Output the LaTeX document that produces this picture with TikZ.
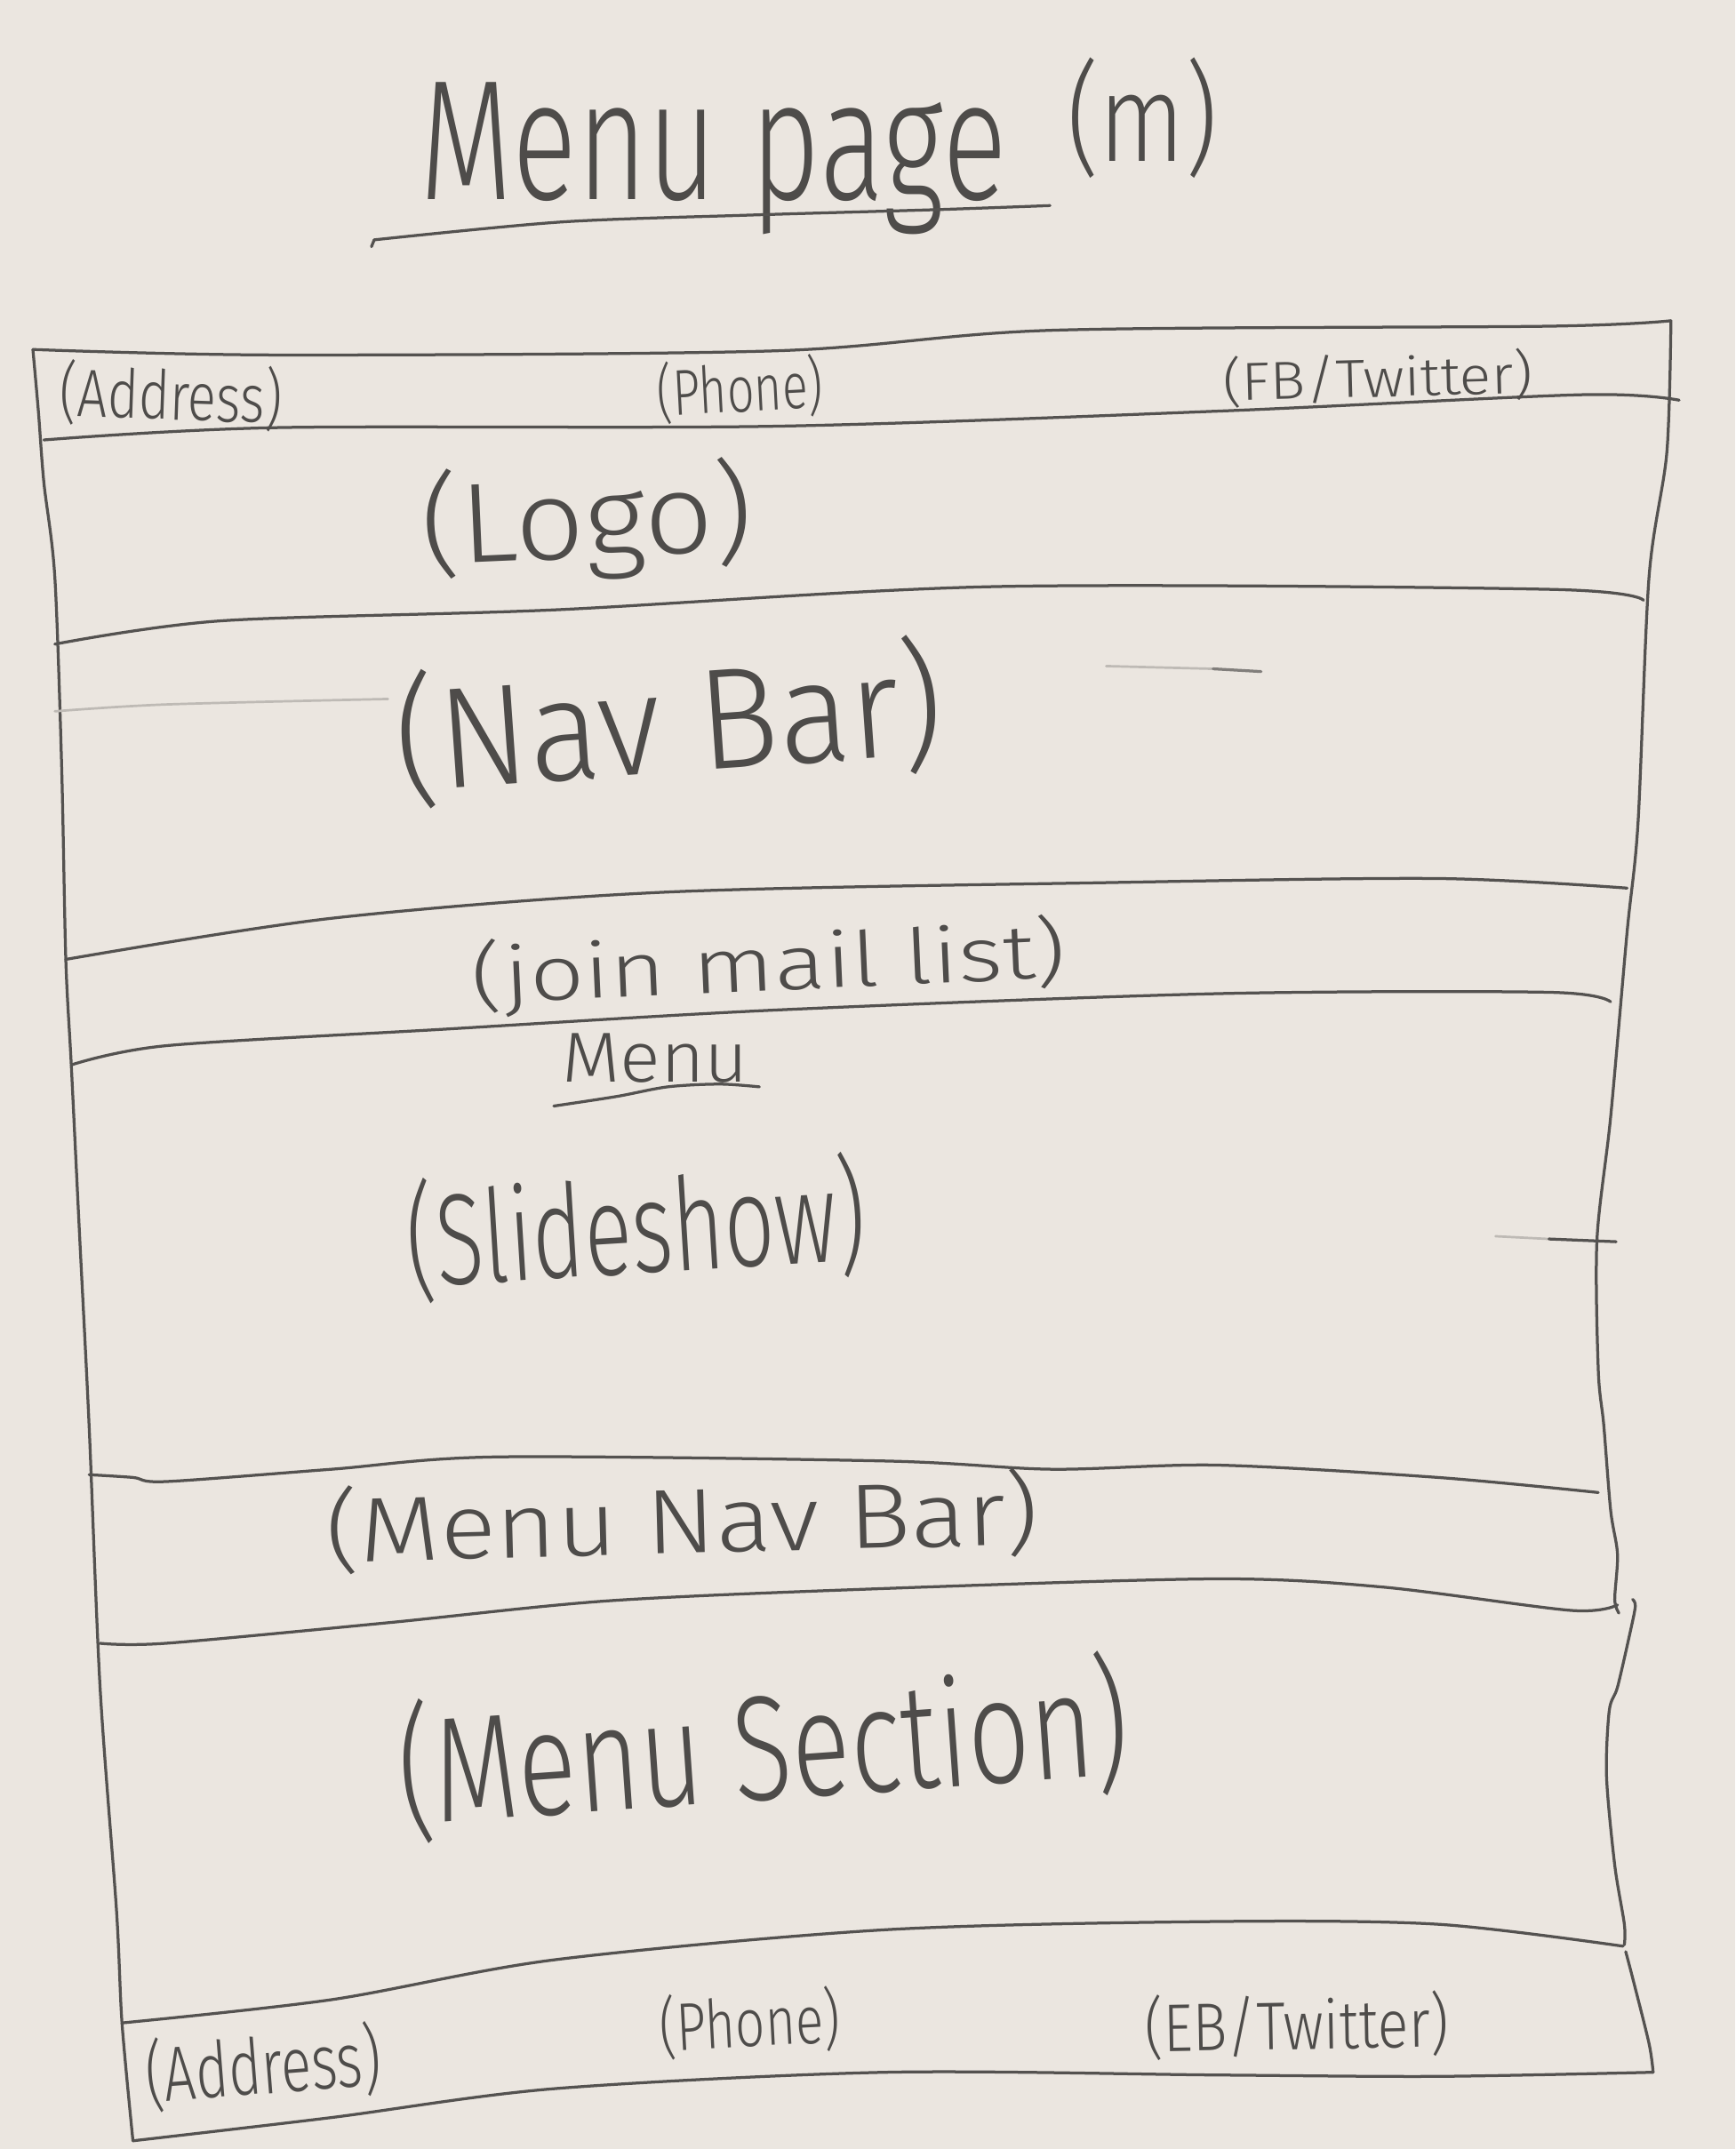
\documentclass[tikz,border=0pt]{standalone}
\usepackage{fontspec}
\setmainfont{Fira Sans Light}
\newlength\pxu
\setlength\pxu{0.02cm}
\newcommand\hwbox[3]{\resizebox*{#1\pxu}{#2\pxu}{#3}}
\definecolor{paper}{RGB}{235,230,224}
\definecolor{pencil}{RGB}{84,82,80}
\definecolor{pentext}{RGB}{78,76,74}
\begin{document}
\begin{tikzpicture}[x=0.02cm,y=-0.02cm,
  penline/.style={draw=pencil,line width=1.2pt,line cap=round,line join=round},
  faintline/.style={draw=pencil!30!paper,line width=1pt,line cap=round},
  hw/.style={inner sep=0pt,text=pentext}]
\fill[paper] (0,0) rectangle (1266,1568);
\useasboundingbox (0,0) rectangle (1266,1568);

% title
\node[hw,anchor=north west] (title) at (306,60) {\hwbox{428}{111}{Menu page}};
\node[hw,anchor=north west] (titlem) at (778,42) {\hwbox{110}{88}{(m)}};
\draw[penline] (271,180) -- (273,175);
\draw[penline] plot[smooth] coordinates {(273,175) (409,162) (545,157) (682,153) (766,150)};

% outer frame
\draw[penline] plot[smooth] coordinates {(24,255) (28,300) (32,352) (40,421) (45,560) (48,700) (52,777) (58,900) (65,1040) (73,1231) (85,1394) (89,1476) (97,1562)};
\draw[penline] plot[smooth] coordinates {(1219,234) (1216,330) (1203,421) (1195,600) (1187,680) (1175,815) (1165,905) (1166,1000) (1170,1040) (1175,1102) (1180,1134) (1178,1167) (1181,1177)};
\draw[penline] plot[smooth] coordinates {(1191,1167) (1193,1172) (1189,1192) (1180,1231) (1174,1248) (1172,1296) (1178,1361) (1185,1404) (1185,1419)};
\draw[penline] plot[smooth] coordinates {(1186,1424) (1191,1443) (1203,1491) (1206,1512)};
\draw[faintline] (1091,902) -- (1130,904);
\draw[penline] (1130,904) -- (1179,906);

% horizontal band lines
\draw[penline] plot[smooth] coordinates {(24,255) (202,259) (565,256) (767,241) (1130,238) (1219,234)};
\draw[penline] plot[smooth] coordinates {(32,321) (202,312) (565,311) (888,300) (1154,288) (1225,292)};
\draw[penline] plot[smooth] coordinates {(40,470) (161,453) (404,445) (726,428) (1130,430) (1199,438)};
\draw[faintline] plot[smooth] coordinates {(40,519) (121,514) (283,510)};
\draw[faintline] (807,486) -- (885,488);
\draw[penline,draw=pencil!70!paper] (885,488) -- (920,490);
\draw[penline] plot[smooth] coordinates {(48,700) (242,670) (484,651) (807,644) (1049,641) (1187,648)};
\draw[penline] plot[smooth] coordinates {(52,777) (121,763) (323,751) (565,737) (888,725) (1130,724) (1175,731)};
\draw[penline] plot[smooth] coordinates {(65,1076) (97,1078) (121,1081) (242,1072) (363,1063) (646,1066) (767,1072) (888,1069) (1049,1078) (1166,1089)};
\draw[penline] plot[smooth] coordinates {(73,1199) (121,1199) (283,1184) (444,1168) (646,1159) (888,1152) (1009,1158) (1146,1175) (1180,1171)};
\draw[penline] plot[smooth] coordinates {(89,1476) (242,1459) (404,1430) (646,1408) (888,1402) (1049,1404) (1184,1420)};
\draw[penline] plot[smooth] coordinates {(97,1562) (242,1545) (404,1524) (646,1512) (888,1514) (1049,1515) (1206,1512)};

% header
\node[hw,rotate=-2] (haddr) at (125,289) {\hwbox{162}{48}{(Address)}};
\node[hw,rotate=3] (hphone) at (540,284) {\hwbox{121}{46}{(Phone)}};
\node[hw,rotate=1.5] (hsocial) at (1005,276) {\hwbox{226}{38}{(FB/Twitter)}};

% body
\node[hw,rotate=2.5] (logo) at (428,381) {\hwbox{242}{86}{(Logo)}};
\node[hw,rotate=4] (nav) at (488,527) {\hwbox{400}{102}{(Nav Bar)}};
\node[hw,rotate=2.5] (mail) at (561,705) {\hwbox{434}{58}{(join mail list)}};
\node[hw] (menuhd) at (478,772) {\hwbox{136}{36}{Menu}};
\draw[penline] plot[smooth] coordinates {(404,807) (450,800) (487,793) (525,791) (554,793)};
\node[hw,rotate=3.5] (slides) at (464,896) {\hwbox{335}{92}{(Slideshow)}};
\node[hw,rotate=1.5] (mnav) at (498,1110) {\hwbox{520}{65}{(Menu Nav Bar)}};
\node[hw,rotate=4] (msec) at (557,1275) {\hwbox{533}{106}{(Menu Section)}};

% footer
\node[hw,rotate=4.5] (faddr) at (192,1508) {\hwbox{172}{55}{(Address)}};
\node[hw,rotate=3] (fphone) at (547,1476) {\hwbox{132}{48}{(Phone)}};
\node[hw,rotate=1] (fsocial) at (946,1478) {\hwbox{222}{48}{(EB/Twitter)}};
\end{tikzpicture}
\end{document}
